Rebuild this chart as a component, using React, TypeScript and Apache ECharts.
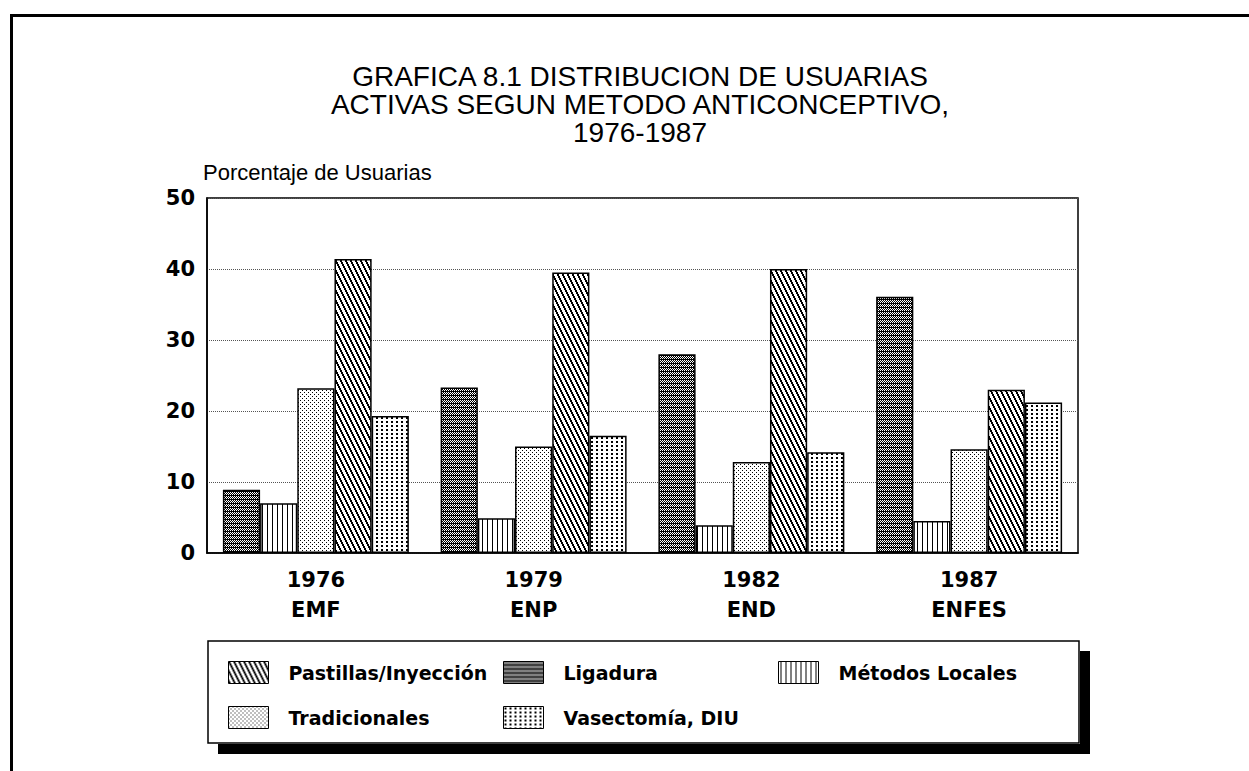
import React, { useEffect, useRef } from "react";
import * as echarts from "echarts";

const categories = ["1976\nEMF", "1979\nENP", "1982\nEND", "1987\nENFES"];
const ligadura = [8.9, 23.3, 28.0, 36.1];
const metodosLocales = [7.0, 4.9, 3.9, 4.5];
const tradicionales = [23.2, 15.0, 12.8, 14.6];
const pastillas = [41.4, 39.5, 40.0, 23.0];
const vasectomia = [19.3, 16.5, 14.2, 21.2];

const seriesNames = {
  pastillas: "Pastillas/Inyección",
  ligadura: "Ligadura",
  metodos: "Métodos Locales",
  tradicionales: "Tradicionales",
  vasectomia: "Vasectomía, DIU",
};

const titleText = "GRAFICA 8.1 DISTRIBUCION DE USUARIAS\nACTIVAS SEGUN METODO ANTICONCEPTIVO,\n1976-1987";
const yAxisTitle = "Porcentaje de Usuarias";

function makePattern(w: number, h: number, pixels: (set: (x: number, y: number) => void) => void, invert = false) {
  const c = document.createElement("canvas");
  c.width = w;
  c.height = h;
  const ctx = c.getContext("2d")!;
  ctx.fillStyle = invert ? "#000" : "#fff";
  ctx.fillRect(0, 0, w, h);
  ctx.fillStyle = invert ? "#fff" : "#000";
  const set = (x: number, y: number) => {
    ctx.fillRect(((x % w) + w) % w, ((y % h) + h) % h, 1, 1);
  };
  pixels(set);
  return { image: c, repeat: "repeat" as const };
}

export default function App() {
  const ref = useRef<HTMLDivElement>(null);
  useEffect(() => {
    if (!ref.current) return;
    const chart = echarts.init(ref.current, undefined, { renderer: "svg" });

    const diag = makePattern(5, 10, (set) => {
      for (let y = 0; y < 10; y++) {
        const x = Math.floor(y / 2);
        set(x, y);
        set(x + 1, y);
      }
    });
    const cross = makePattern(4, 4, (set) => {
      set(0, 0);
      set(2, 0);
      set(1, 1);
      set(3, 1);
      set(0, 2);
      set(2, 2);
    }, true);
    const vert = makePattern(5, 4, (set) => {
      for (let y = 0; y < 4; y++) set(2, y);
    });
    const stipple = makePattern(4, 4, (set) => {
      set(0, 0);
      set(2, 2);
    });
    const grid = makePattern(5, 4, (set) => {
      set(1, 1);
      set(2, 1);
      set(1, 2);
      set(2, 2);
    });

    const border = { borderColor: "#000", borderWidth: 1.5 };
    const barCommon = {
      type: "bar" as const,
      barGap: "0%",
      barCategoryGap: "14.6%",
    };

    const legendFont = {
      fontFamily: "DejaVu Sans",
      fontWeight: "bold" as const,
      fontSize: 19,
      color: "#000",
      padding: [0, 0, 0, 15],
    };
    const mkLegend = (name: string, left: number, top: number) => ({
      data: [name],
      left,
      top,
      padding: 0,
      icon: "rect",
      itemWidth: 40,
      itemHeight: 22,
      itemStyle: { borderColor: "#000", borderWidth: 1 },
      textStyle: legendFont,
      selectedMode: false,
    });

    chart.setOption({
      animation: false,
      backgroundColor: "#fff",
      title: {
        text: titleText,
        left: 640,
        top: 62,
        padding: 0,
        textAlign: "center",
        textStyle: {
          fontFamily: "Liberation Sans",
          fontWeight: "normal",
          fontSize: 28,
          lineHeight: 28,
          color: "#000",
        },
      },
      legend: [
        mkLegend(seriesNames.pastillas, 228, 661),
        mkLegend(seriesNames.ligadura, 503, 661),
        mkLegend(seriesNames.metodos, 778, 661),
        mkLegend(seriesNames.tradicionales, 228, 706),
        mkLegend(seriesNames.vasectomia, 503, 706),
      ],
      grid: {
        left: 207,
        top: 198,
        width: 871,
        height: 355,
        show: true,
        borderColor: "#000",
        borderWidth: 1.5,
        backgroundColor: "transparent",
      },
      xAxis: {
        type: "category",
        data: categories,
        axisLine: { show: true, lineStyle: { color: "#000", width: 1.5 } },
        axisTick: { show: false },
        axisLabel: {
          margin: 12,
          fontFamily: "DejaVu Sans",
          fontWeight: "bold",
          fontSize: 21,
          lineHeight: 30,
          color: "#000",
        },
      },
      yAxis: {
        type: "value",
        min: 0,
        max: 50,
        interval: 10,
        name: yAxisTitle,
        nameLocation: "end",
        nameGap: 26,
        nameTextStyle: {
          fontFamily: "Liberation Sans",
          fontSize: 22,
          color: "#000",
          align: "left",
          verticalAlign: "middle",
          padding: [0, 0, 0, -4],
        },
        axisLine: { show: true, lineStyle: { color: "#000", width: 1.5 } },
        axisTick: { show: false },
        axisLabel: {
          margin: 12,
          fontFamily: "DejaVu Sans",
          fontWeight: "bold",
          fontSize: 21,
          color: "#000",
        },
        splitLine: { show: true, lineStyle: { color: "#555", type: "dotted", width: 1 } },
      },
      series: [
        { ...barCommon, name: seriesNames.ligadura, data: ligadura, itemStyle: { color: cross, ...border } },
        { ...barCommon, name: seriesNames.metodos, data: metodosLocales, itemStyle: { color: vert, ...border } },
        { ...barCommon, name: seriesNames.tradicionales, data: tradicionales, itemStyle: { color: stipple, ...border } },
        { ...barCommon, name: seriesNames.pastillas, data: pastillas, itemStyle: { color: diag, ...border } },
        { ...barCommon, name: seriesNames.vasectomia, data: vasectomia, itemStyle: { color: grid, ...border } },
      ],
      graphic: [
        {
          type: "polyline",
          shape: { points: [[11.5, 771], [11.5, 15.5], [1249, 15.5]] },
          style: { stroke: "#000", lineWidth: 3, fill: "none" },
          silent: true,
        },
        {
          type: "rect",
          shape: { x: 1080, y: 651, width: 10, height: 103 },
          style: { fill: "#000" },
          silent: true,
        },
        {
          type: "rect",
          shape: { x: 218, y: 744, width: 872, height: 10 },
          style: { fill: "#000" },
          silent: true,
        },
        {
          type: "rect",
          shape: { x: 208, y: 641, width: 871, height: 102 },
          style: { stroke: "#000", lineWidth: 1.5, fill: "#fff" },
          silent: true,
          z: -1,
        },
      ],
    });
    return () => chart.dispose();
  }, []);
  return (
    <div
      ref={ref}
      style={{ position: "absolute", left: 0, top: 0, width: 1249, height: 771 }}
    />
  );
}
